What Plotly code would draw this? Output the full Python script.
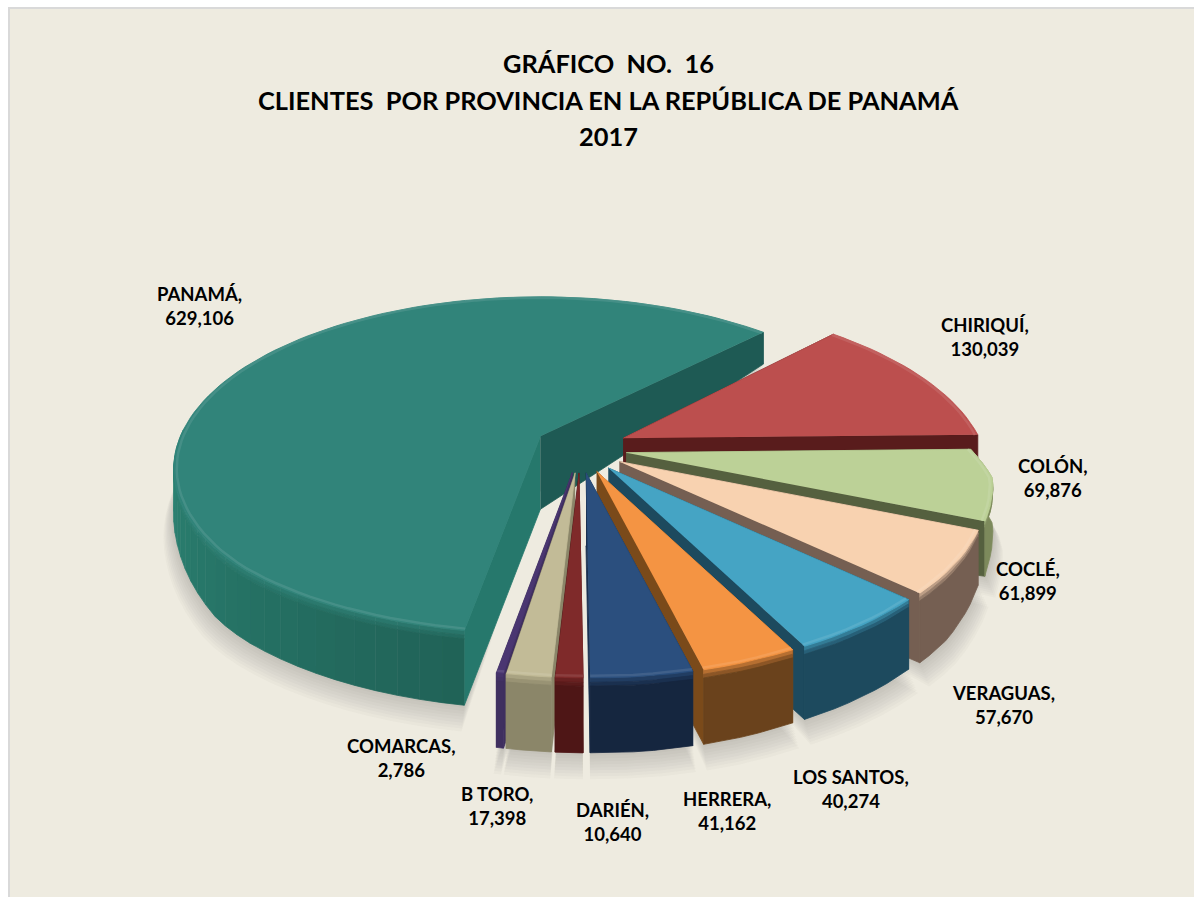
import numpy as np
import plotly.graph_objects as go

# ---- data ----
PROVINCES = ["PANAMÁ", "CHIRIQUÍ", "COLÓN", "COCLÉ", "VERAGUAS", "LOS SANTOS", "HERRERA", "DARIÉN", "B TORO", "COMARCAS"]
CLIENTS = [629106, 130039, 69876, 61899, 57670, 40274, 41162, 10640, 17398, 2786]
TITLE_LINES = ["GRÁFICO\u00a0 NO.\u00a0 16", "CLIENTES\u00a0 POR PROVINCIA EN LA REPÚBLICA DE PANAMÁ", "2017"]

# ---- styles ----
TOP = ["#31847A", "#BC4F4E", "#BCD197", "#F8D2B0", "#45A4C4", "#F49443", "#2B4F7E", "#7F2A2A", "#C2BB97", "#4A3671"]
RIM = ["#24695F", "#591C1C", "#7D8A5C", "#755F52", "#1D4A5E", "#6A421C", "#15263F", "#4E1616", "#8B8669", "#3F2F5F"]
CUT_END = ["#1E5A54", "#591C1C", "#55603F", "#755F52", "#1D4A5E", "#7A4A1A", "#1A3050", "#4E1616", "#8B8669", "#3F2F5F"]
CUT_START = ["#26786C", "#591C1C", "#55603F", "#755F52", "#1D4A5E", "#7A4A1A", "#1A3050", "#4E1616", "#8B8669", "#3F2F5F"]
LABEL_XY = [(199, 306), (985, 337), (1053, 478), (1028, 581), (1003, 705), (851, 789), (727, 811), (612, 822), (497, 806), (401, 758)]
DRAW_ORDER = [0, 1, 2, 3, 4, 5, 9, 8, 6, 7]

# ---- projection of the tilted pie (pixel canvas) ----
CX, CY = 581, 448          # pie centre
R, K = 360, 166            # horizontal radius, vertical radius
P = 0.19                   # perspective
EX, EY = 46, 25            # explosion
APEX_DEPTH = 73
START = 44.7               # end angle of the first slice, clockwise from 12 o'clock
DEPTH_Y = [-1, -0.6, -0.3, 0.1, 0.7, 1]
DEPTH_V = [75, 68, 50, 38, 32, 25]


def hex2rgb(h):
    return np.array([int(h[i:i + 2], 16) for i in (1, 3, 5)], float)


def mix(a, b, t):
    c = hex2rgb(a) * (1 - t) + hex2rgb(b) * t
    return "#%02X%02X%02X" % tuple(int(round(v)) for v in c)


def rim_xy(theta, apex, i, r=1.0):
    theta = np.asarray(theta, float)
    t = np.radians(theta)
    X, Y = r * np.sin(t), r * np.cos(t)
    s = 1 / (1 + P * Y)
    x = apex[0] + R * s * X
    y = apex[1] - K * s * Y
    # small optical corrections of the perspective
    wrapped = theta % 360
    x = x + np.interp(wrapped, [155, 175, 195, 225], [0, 10, 10, 0])
    if i == 0:
        y = y - np.interp(wrapped, [150, 190, 230], [0, 6, 0])
    elif i == 1:
        x = x - np.interp(Y, [0.02, 0.71], [4, 13])
    elif i == 2:
        x = x - np.interp(Y, [-0.15, 0.02], [0, 14])
    return x, y


def depth(theta):
    return np.interp(np.cos(np.radians(theta)), DEPTH_Y, DEPTH_V)


fig = go.Figure()


def poly(xs, ys, color, opacity=1.0):
    line = dict(width=0.8, color=color) if opacity == 1.0 else dict(width=0)
    fig.add_trace(go.Scatter(x=list(xs), y=list(ys), mode="lines", fill="toself", fillcolor=color,
                             line=line, opacity=opacity, hoverinfo="skip", showlegend=False))


sweeps = np.array(CLIENTS) / sum(CLIENTS) * 360
slices = []
a0 = START - sweeps[0]
for i, sw in enumerate(sweeps):
    a1 = a0 + sw
    mid = np.radians((a0 + a1) / 2)
    apex = (CX + EX * np.sin(mid), CY - EY * np.cos(mid))
    slices.append((a0, a1, apex))
    a0 = a1

# soft ground shadow
for i in DRAW_ORDER:
    a, b, apex = slices[i]
    th = np.linspace(a, b, max(3, int((b - a) / 3)))
    for k in range(9):
        dy, rr = 2 + 2.2 * k, 1.003 + 0.003 * k
        px, py = rim_xy(th, apex, i, rr)
        py = py + depth(th) + dy
        poly(np.r_[apex[0], px], np.r_[apex[1] + 55, py], "#55554A", 0.028)

for i in DRAW_ORDER:
    a, b, apex = slices[i]
    top, rim = TOP[i], RIM[i]
    # cut faces (start and end of the slice)
    for edge, cut in ((a, CUT_START[i]), (b, CUT_END[i])):
        ex, ey = rim_xy(edge, apex, i)
        poly([apex[0], ex, ex, apex[0]], [apex[1], ey, ey + depth(edge), apex[1] + APEX_DEPTH], cut)
    # outer wall, shaded in strips on the big slice (the back of the wall cannot be seen)
    if i == 0:
        edges = np.arange(a, -85, 3.0)
    elif i == 1:
        edges = []
    else:
        edges = [a, b]
    for j in range(len(edges) - 1):
        base = rim
        if i == 0:
            base = mix("#206257", "#2B8272", np.clip((edges[j] + 170) / 70, 0, 1))
        seg = np.linspace(edges[j], edges[j + 1], max(4, int((edges[j + 1] - edges[j]) / 2)))
        x, y = rim_xy(seg, apex, i)
        d = depth(seg)
        for t0, t1, m in [(0, 0.06, 0.45), (0.06, 0.11, 0.75), (0.11, 1, 1.0)]:
            poly(np.r_[x, x[::-1]], np.r_[y + d * t0, (y + d * t1)[::-1]], mix(top, base, m))
    # top face
    th = np.linspace(a, b, max(4, int((b - a) / 2)))
    x, y = rim_xy(th, apex, i)
    poly(np.r_[apex[0], x], np.r_[apex[1], y], top)
    # bevel highlight
    x, y = rim_xy(th, apex, i, 0.992)
    fig.add_trace(go.Scatter(x=x, y=y, mode="lines", line=dict(color=mix(top, "#FFFFFF", 0.14), width=2.5),
                             opacity=0.7, hoverinfo="skip", showlegend=False))

annotations = []
for name, value, (lx, ly) in zip(PROVINCES, CLIENTS, LABEL_XY):
    annotations.append(dict(x=lx, y=ly, xref="x", yref="y", showarrow=False, align="center",
                            text=f"<b>{name},</b><br><b>{value:,}</b>",
                            font=dict(family="Lato", size=18.5, color="#000000")))
for line, ty in zip(TITLE_LINES, [63, 100, 136]):
    annotations.append(dict(x=608, y=ty, xref="x", yref="y", showarrow=False,
                            text=f"<b>{line}</b>", font=dict(family="Lato", size=25.4, color="#000000")))

shapes = [
    dict(type="rect", x0=8, y0=7, x1=1194, y1=897, fillcolor="#D9D9D9", line_width=0, layer="below"),
    dict(type="rect", x0=10, y0=9, x1=1194, y1=897, fillcolor="#EEEBE0", line_width=0, layer="below"),
]

fig.update_layout(
    width=1194, height=897, margin=dict(l=0, r=0, t=0, b=0),
    paper_bgcolor="#FFFFFF", plot_bgcolor="#FFFFFF", showlegend=False,
    xaxis=dict(range=[0, 1194], visible=False, fixedrange=True),
    yaxis=dict(range=[897, 0], visible=False, fixedrange=True),
    annotations=annotations, shapes=shapes,
)
fig.write_html("out.html", config={"displayModeBar": False},
               post_script="document.body.style.margin='0';document.body.style.overflow='hidden';")
